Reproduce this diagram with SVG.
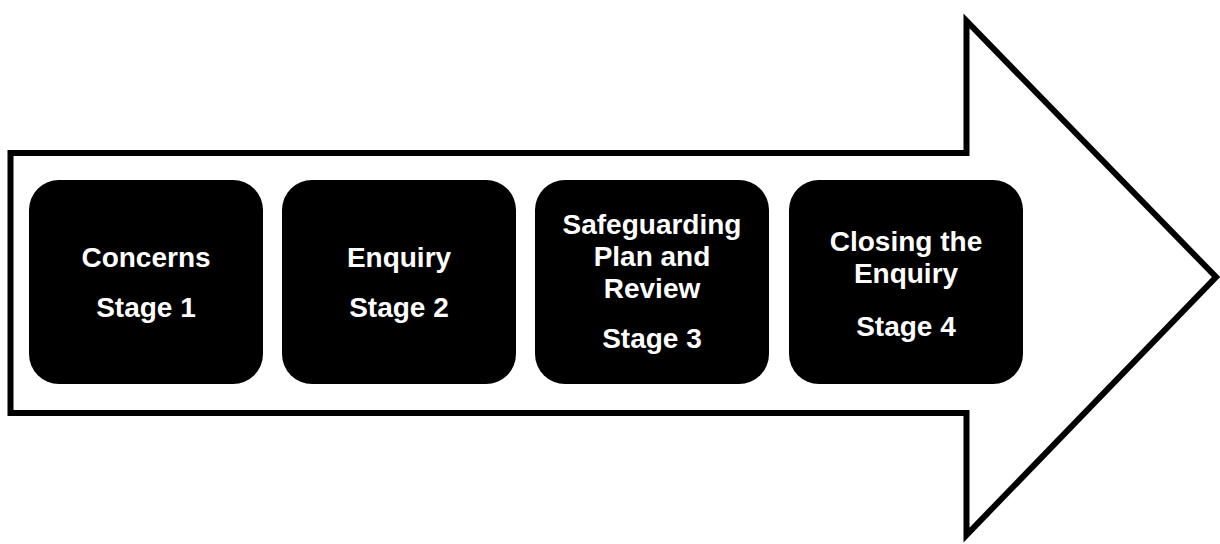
<svg xmlns="http://www.w3.org/2000/svg" width="1220" height="544" viewBox="0 0 1220 544">
<style>
.box{fill:#000;}
.t{fill:#fff;font-family:"Liberation Sans",Arial,sans-serif;font-weight:bold;font-size:28px;text-anchor:middle;}
</style>
<rect width="1220" height="544" fill="#fff"/>
<g id="arrow">
<path d="M10.5 153 H966.5 V21 L1216 277 L966.5 535 V413 H10.5 Z" fill="#fff" stroke="#000" stroke-width="6" stroke-linejoin="miter" stroke-miterlimit="10"/>
</g>
<g id="connectors"></g>
<g id="stage1">
<rect class="box" x="29" y="180" width="234" height="204" rx="30"/>
<text class="t" x="146" y="267">Concerns</text>
<text class="t" x="146" y="317">Stage 1</text>
</g>
<g id="stage2">
<rect class="box" x="282" y="180" width="234" height="204" rx="30"/>
<text class="t" x="399" y="267">Enquiry</text>
<text class="t" x="399" y="317">Stage 2</text>
</g>
<g id="stage3">
<rect class="box" x="535" y="180" width="234" height="204" rx="30"/>
<text class="t" x="652" y="234">Safeguarding</text>
<text class="t" x="652" y="266">Plan and</text>
<text class="t" x="652" y="298">Review</text>
<text class="t" x="652" y="348">Stage 3</text>
</g>
<g id="stage4">
<rect class="box" x="789" y="180" width="234" height="204" rx="30"/>
<text class="t" x="906" y="251">Closing the</text>
<text class="t" x="906" y="283">Enquiry</text>
<text class="t" x="906" y="336">Stage 4</text>
</g>
</svg>
